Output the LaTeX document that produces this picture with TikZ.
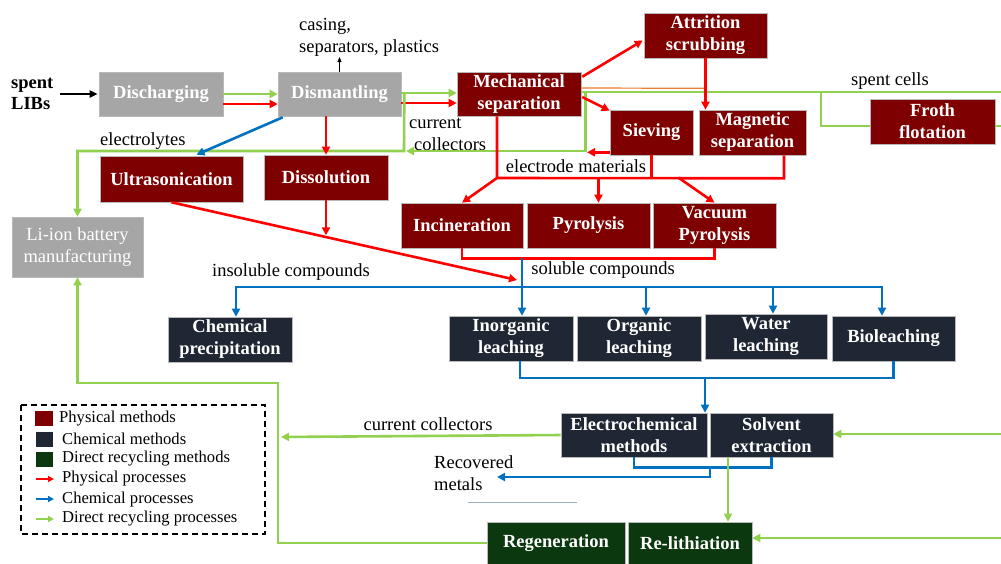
\documentclass[tikz,border=0pt]{standalone}
\usepackage{fontspec}
\setmainfont{Liberation Serif}
\usetikzlibrary{arrows.meta,calc}
\definecolor{pred}{HTML}{7F0000}
\definecolor{cnavy}{HTML}{1E2733}
\definecolor{dgreen}{HTML}{0B380E}
\definecolor{gbox}{HTML}{A6A6A6}
\definecolor{lgreen}{HTML}{92D050}
\definecolor{lred}{HTML}{FF0000}
\definecolor{lblue}{HTML}{0070C0}
\definecolor{lorange}{HTML}{ED7D31}
\tikzset{
 box/.style={draw=gray!55, line width=0.6pt, inner sep=0pt, align=center, text=white, font=\bfseries\fontsize{18.5}{22}\selectfont},
 phys/.style={box, fill=pred},
 chem/.style={box, fill=cnavy},
 dir/.style={box, fill=dgreen},
 grey/.style={box, fill=gbox},
 lbl/.style={font=\fontsize{18.5}{22}\selectfont, inner sep=0pt, align=left},
 leg/.style={font=\fontsize{16.6}{18}\selectfont, inner sep=0pt, anchor=west},
 tip/.style={-{Triangle[length=8pt,width=8pt]}},
 rl/.style={draw=lred, line width=2.6pt},
 gl/.style={draw=lgreen, line width=2.6pt},
 bl/.style={draw=lblue, line width=2.6pt},
 ra/.style={rl, tip},
 ga/.style={gl, tip},
 ba/.style={bl, tip},
}
\begin{document}
\begin{tikzpicture}[x=1pt,y=-1pt]
\useasboundingbox (0,0) rectangle (1001,563);
\fill[white] (0,0) rectangle (1001,563);

% ---- nodes ----
\node[lbl, font=\bfseries\fontsize{18.5}{21}\selectfont, anchor=west] (spent) at (11,94) {spent\\LIBs};
\node[grey, minimum width=124pt, minimum height=44pt] (dis) at (161,94) {Discharging};
\node[grey, minimum width=123pt, minimum height=44pt] (dism) at (339.5,94) {Dismantling};
\node[lbl, anchor=south west] (casing) at (299,57) {casing,\\separators, plastics};
\node[phys, minimum width=124pt, minimum height=44pt] (mech) at (519,94) {Mechanical\\separation};
\node[phys, minimum width=123pt, minimum height=45pt] (attr) at (705.5,35.5) {Attrition\\scrubbing};
\node[phys, minimum width=83pt, minimum height=45pt] (siev) at (651.5,132.5) {Sieving};
\node[phys, minimum width=107pt, minimum height=45pt] (magn) at (752.5,132.5) {Magnetic\\separation};
\node[phys, minimum width=125pt, minimum height=45pt] (froth) at (932.5,121.5) {Froth\\flotation};
\node[phys, minimum width=143pt, minimum height=46pt] (ultra) at (171.5,179) {Ultrasonication};
\node[phys, minimum width=124pt, minimum height=45pt] (disso) at (326,177.5) {Dissolution};
\node[grey, font=\fontsize{18.5}{22}\selectfont, minimum width=131pt, minimum height=60pt] (liion) at (77.5,247) {Li-ion battery\\manufacturing};
\node[phys, minimum width=122pt, minimum height=45pt] (incin) at (462,225.5) {Incineration};
\node[phys, minimum width=123pt, minimum height=45pt] (pyro) at (588.5,225.5) {Pyrolysis};
\node[phys, minimum width=123pt, minimum height=45pt] (vac) at (714.5,225.5) {Vacuum\\Pyrolysis};
\node[chem, minimum width=124pt, minimum height=45pt] (chemp) at (230,339.5) {Chemical\\precipitation};
\node[chem, minimum width=124pt, minimum height=45pt] (inorg) at (511,338.5) {Inorganic\\leaching};
\node[chem, minimum width=124pt, minimum height=45pt] (org) at (639,338.5) {Organic\\leaching};
\node[chem, minimum width=122pt, minimum height=45pt] (water) at (766,336.5) {Water\\leaching};
\node[chem, minimum width=123pt, minimum height=45pt] (bio) at (893.5,338.5) {Bioleaching};
\node[chem, minimum width=146pt, minimum height=44pt] (elec) at (634,435) {Electrochemical\\methods};
\node[chem, minimum width=123pt, minimum height=44pt] (solv) at (771.5,435) {Solvent\\extraction};
\node[dir, minimum width=138pt, minimum height=42pt] (regen) at (556,543) {Regeneration};
\node[dir, minimum width=124pt, minimum height=42pt] (relith) at (690,543) {Re-lithiation};

% labels
\node[lbl, anchor=west] (lelec) at (100,141) {electrolytes};
\node[lbl, anchor=west] (lcc) at (409,134) {current\\\hspace*{5pt}collectors};
\node[lbl] (lspent) at (890,81) {spent cells};
\node[lbl] (lelmat) at (576,166) {electrode materials};
\node[lbl] (linsol) at (291,272) {insoluble compounds};
\node[lbl] (lsol) at (603,270) {soluble compounds};
\node[lbl] (lcc2) at (428,424) {current collectors};
\node[lbl, anchor=west] (lrec) at (434,473) {Recovered\\metals};

% coordinates
\coordinate (j1) at (404,151);
\coordinate (cc) at (585,151);
\coordinate (em) at (497,178);
\coordinate (edge1) at (1001,92);
\coordinate (edge2) at (1001,126);
\coordinate (edge3) at (1001,434);
\coordinate (edge4) at (1001,538);
\coordinate (dj) at (517,280);
\coordinate (sc) at (522,258);
\coordinate (hb) at (522,287);
\coordinate (cb) at (705,378);
\coordinate (rm) at (497,477);
\coordinate (gv) at (278,437);
\coordinate (sg) at ($(solv.south)+(-43.5,0)$);

% ---- black ----
\draw[line width=2pt, -{Triangle[length=8pt,width=7pt]}, shorten <=6pt, shorten >=1pt] (spent.east) -- (dis.west);
\draw[line width=0.8pt, -{Triangle[length=5pt,width=4pt]}] (dism.north) -- (dism.north |- casing.south);

% ---- first row ----
\draw[ga] ($(dis.east)+(0,0)$) -- ($(dism.west)+(0,0)$);
\draw[ra] ($(dis.east)+(0,10)$) -- ($(dism.west)+(0,10)$);
\draw[ga] ($(dism.east)+(0,-1)$) -- ($(mech.west)+(0,-1)$);
\draw[ra] ($(dism.east)+(0,9)$) -- ($(mech.west)+(0,9)$);

% green dismantling -> Li-ion manufacturing
\draw[ga] ($(dism.east)+(3,-1)$) -- (j1) -| (liion.north);
% current collectors
\draw[ga, shorten >=2pt] ($(mech.east)+(4,-1)$) |- (j1);
% spent cells
\draw[lorange, line width=1.2pt] ($(mech.east)+(0,-6)$) -- ($(attr.south)+(0,30)$);
\draw[gl] ($(mech.east)+(0,-2)$) -- (edge1);
\draw[gl] (821,92) |- (froth.west |- edge2);
\draw[gl] (froth.east |- edge2) -- (edge2);

% blue electrolytes
\draw[ba] ($(dism.south west)+(5,1)$) -- ($(ultra.north)+(25,-1)$);
% dissolution
\draw[ra] (disso.north |- dism.south) -- (disso.north);

% mechanical separation branches
\draw[ra] ($(mech.north east)+(1,5)$) -- ($(attr.west)+(-1,5)$);
\draw[ra] (attr.south) -- (attr.south |- magn.north);
\draw[ra] ($(mech.east)+(1,3)$) -- ($(siev.north west)+(0,1)$);
\draw[ra, shorten >=2pt] ($(siev.south west)+(0,-3)$) -- (cc |- {$(siev.south west)+(0,-3)$});

% electrode materials
\draw[rl] (mech.south -| em) -- (em) -- ($(magn.south)+(31.5,23)$) -- ($(magn.south)+(31.5,0)$);
\draw[rl] (siev.south) -- (siev.south |- em);
\draw[ra] (em) -- (incin.north);
\draw[ra] ($(pyro.north)+(10,-25)$) -- ($(pyro.north)+(10,0)$);
\draw[ra] ($(vac.north)+(-36,-25)$) -- (vac.north);

% thermal -> soluble
\draw[rl] (incin.south) -- ++(0,10) -| (vac.south);
\draw[ra] (ultra.south) -- (dj);
\draw[ra] (disso.south) -- ($(disso.south)+(0,35)$);

% ---- chemical ----
\draw[ba] (sc) -- (inorg.north -| sc);
\draw[ba] (hb) -| ($(chemp.north)+(6,0)$);
\draw[ba] (hb) -| ($(org.north)+(7,0)$);
\draw[ba] (hb) -| ($(water.north)+(7,0)$);
\draw[ba] (hb) -| ($(bio.north)+(-11.5,0)$);
\draw[bl] ($(inorg.south)+(9,0)$) |- (cb) -| (bio.south);
\draw[ba] (cb) -- (cb |- elec.north);
\draw[bl] (elec.south) -- ++(0,10) -| (solv.south);
\draw[ba] (710,467) |- (rm);
\draw[color=lblue!35!gray!60, line width=1pt] (468,502) -- (577,502);

% ---- direct recycling ----
\draw[ga, shorten >=3pt] (elec.west) -- (gv);
\draw[ga] (regen.west) -| (278,383) -| (liion.south);
\draw[ga] (sg) -- (sg |- relith.north);
\draw[ga] (edge3) -- (solv.east |- edge3);
\draw[ga] (edge4) -- (relith.east |- edge4);

% ---- legend ----
\draw[line width=1.6pt, dash pattern=on 6pt off 4pt] (21,405) rectangle (265,534);
\fill[pred] (35,411) rectangle (53,426);
\fill[cnavy] (36,432) rectangle (53,447);
\fill[dgreen] (36,452) rectangle (53,467);
\draw[rl, line width=2pt, -{Triangle[length=6pt,width=6pt]}] (36,479) -- (54,479);
\draw[bl, line width=2pt, -{Triangle[length=6pt,width=6pt]}] (36,499) -- (54,499);
\draw[gl, line width=2pt, -{Triangle[length=6pt,width=6pt]}] (36,519) -- (54,519);
\node[leg] at (59,419) {Physical methods};
\node[leg] at (62,439) {Chemical methods};
\node[leg] at (62,459) {Direct recycling methods};
\node[leg] at (62,479) {Physical processes};
\node[leg] at (62,499) {Chemical processes};
\node[leg] at (62,519) {Direct recycling processes};
\end{tikzpicture}
\end{document}
